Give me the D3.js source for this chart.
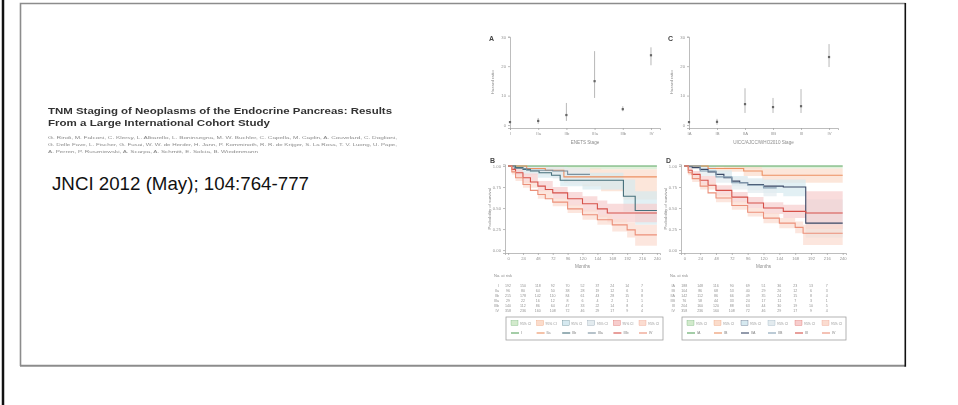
<!DOCTYPE html>
<html>
<head>
<meta charset="utf-8">
<script src="https://cdn.jsdelivr.net/npm/d3@7"></script>
<style>
  body { margin: 0; background: #fff; }
  svg { display: block; font-family: "Liberation Sans", Arial, sans-serif; }
</style>
</head>
<body>
<svg id="chart" width="958" height="405"></svg>
<script>
// ---- text ----
const paperTitle = ["TNM Staging of Neoplasms of the Endocrine Pancreas: Results",
                    "From a Large International Cohort Study"];
const paperAuthors = [
  "G. Rindi, M. Falconi, C. Klersy, L. Albarello, L. Boninsegna, M. W. Buchler, C. Capella, M. Caplin, A. Couvelard, C. Doglioni,",
  "G. Delle Fave, L. Fischer, G. Fusai, W. W. de Herder, H. Jann, P. Komminoth, R. R. de Krijger, S. La Rosa, T. V. Luong, U. Pape,",
  "A. Perren, P. Ruszniewski, A. Scarpa, A. Schmitt, E. Solcia, B. Wiedenmann"];
const citation = "JNCI 2012 (May); 104:764-777";

// ---- hazard ratio panels (A, C) ----
const enetsStages = ["I", "IIa", "IIb", "IIIa", "IIIb", "IV"];
const enetsHR = [1, 1.4, 3.4, 14.9, 5.4, 23.7];
const enetsLo = [1, 0.4, 1.4, 9.2, 4.7, 20.3];
const enetsHi = [1, 2.4, 7.5, 25.1, 6.4, 26.4];

const ajccStages = ["IA", "IB", "IIA", "IIB", "III", "IV"];
const ajccHR = [1, 1.1, 7.1, 6.1, 6.4, 23.1];
const ajccLo = [1, 0.1, 4.1, 4.1, 4.1, 19.7];
const ajccHi = [1, 2.1, 12.5, 9.2, 12.2, 27.5];

const hrTicks = [0, 10, 20, 30];

// ---- survival panels (B, D): [month, survival] and [month, lower, upper] ----
const monthTicks = [0, 24, 48, 72, 96, 120, 144, 168, 192, 216, 240];
const survTicks = [0, 0.25, 0.5, 0.75, 1];

const kmB_I    = [[0,1],[240,1]];
const kmB_IIa  = [[0,1],[30,0.97],[60,0.95],[90,0.87],[240,0.87]];
const kmB_IIb  = [[0,1],[12,0.98],[24,0.96],[36,0.94],[50,0.92],[70,0.89],[84,0.83],[186,0.64],[205,0.47],[240,0.47]];
const kmB_IIIa = [[0,1],[10,0.97],[30,0.95],[72,0.94],[96,0.9],[132,0.9]];
const kmB_IIIb = [[0,1],[6,0.96],[12,0.92],[24,0.86],[36,0.81],[48,0.76],[60,0.72],[72,0.68],[96,0.61],[120,0.55],[144,0.49],[160,0.44],[240,0.44]];
const kmB_IV   = [[0,1],[6,0.93],[12,0.86],[24,0.78],[36,0.71],[48,0.66],[60,0.61],[72,0.57],[96,0.49],[120,0.42],[144,0.36],[168,0.3],[192,0.24],[205,0.18],[240,0.18]];

const ciB_I    = [[0,0.99,1],[48,0.96,1],[240,0.96,1]];
const ciB_IIa  = [[0,0.99,1],[30,0.93,1],[60,0.9,1],[90,0.8,0.97],[120,0.76,0.97],[150,0.7,0.96],[186,0.6,0.96],[240,0.6,0.96]];
const ciB_IIb  = [[0,0.99,1],[24,0.92,0.99],[48,0.86,0.97],[84,0.76,0.92],[120,0.72,0.92],[186,0.46,0.84],[205,0.3,0.7],[240,0.3,0.7]];
const ciB_IIIa = [[0,1,1],[10,0.9,1],[72,0.85,1],[96,0.78,0.98],[132,0.78,0.98]];
const ciB_IIIb = [[0,1,1],[6,0.92,0.99],[12,0.87,0.96],[24,0.8,0.91],[48,0.7,0.82],[72,0.61,0.75],[96,0.53,0.69],[120,0.46,0.64],[144,0.39,0.59],[160,0.33,0.55],[240,0.33,0.55]];
const ciB_IV   = [[0,1,1],[6,0.9,0.96],[12,0.82,0.9],[24,0.74,0.82],[48,0.61,0.71],[72,0.52,0.62],[96,0.44,0.54],[120,0.36,0.48],[144,0.3,0.42],[168,0.22,0.37],[192,0.15,0.33],[205,0.05,0.3],[240,0.05,0.3]];

const kmD_IA  = [[0,1],[240,1]];
const kmD_IB  = [[0,1],[36,0.97],[90,0.94],[118,0.89],[240,0.89]];
const kmD_IIA = [[0,1],[6,0.99],[12,0.98],[24,0.96],[36,0.93],[48,0.9],[60,0.86],[72,0.82],[84,0.8],[96,0.78],[120,0.76],[150,0.75],[184,0.32],[240,0.32]];
const kmD_IIB = [[0,1],[24,0.94],[48,0.87],[72,0.8],[96,0.77],[120,0.74],[140,0.74]];
const kmD_III = [[0,1],[6,0.95],[12,0.9],[24,0.83],[36,0.77],[48,0.71],[72,0.63],[96,0.56],[120,0.5],[150,0.46],[184,0.44],[240,0.44]];
const kmD_IV  = [[0,1],[6,0.92],[12,0.85],[24,0.76],[36,0.68],[48,0.62],[72,0.53],[96,0.45],[120,0.38],[144,0.32],[168,0.27],[180,0.2],[240,0.2]];

const ciD_IA  = [[0,0.99,1],[60,0.97,1],[240,0.97,1]];
const ciD_IB  = [[0,0.99,1],[36,0.93,1],[90,0.88,0.99],[118,0.8,0.97],[240,0.8,0.97]];
const ciD_IIA = [[0,1,1],[24,0.93,0.99],[48,0.85,0.95],[72,0.76,0.88],[96,0.71,0.85],[120,0.68,0.84],[150,0.64,0.84],[184,0.15,0.6],[240,0.15,0.6]];
const ciD_IIB = [[0,1,1],[24,0.88,0.98],[48,0.8,0.93],[72,0.72,0.87],[96,0.68,0.85],[120,0.64,0.83],[140,0.64,0.83]];
const ciD_III = [[0,1,1],[6,0.92,0.98],[12,0.86,0.94],[24,0.78,0.88],[48,0.65,0.77],[72,0.57,0.69],[96,0.5,0.63],[120,0.43,0.57],[150,0.38,0.54],[184,0.25,0.7],[240,0.25,0.7]];
const ciD_IV  = [[0,1,1],[6,0.89,0.95],[12,0.81,0.89],[24,0.72,0.8],[48,0.57,0.67],[72,0.48,0.58],[96,0.4,0.5],[120,0.32,0.44],[144,0.26,0.38],[168,0.2,0.34],[180,0.06,0.3],[240,0.06,0.3]];

// numbers at risk, columns at months 0..216
const riskMonths = [0, 24, 48, 72, 96, 120, 144, 168, 192, 216];
const riskB = [
  [192,150,118,92,70,52,37,24,14,7],
  [96,80,64,50,38,28,19,12,6,3],
  [215,178,142,110,84,61,43,28,15,8],
  [29,22,16,12,8,6,4,2,1,1],
  [140,112,86,64,47,33,22,14,8,4],
  [358,236,160,108,72,46,29,17,9,4]];
const riskD = [
  [188,148,116,90,69,51,36,23,13,7],
  [104,86,68,53,40,29,20,12,6,3],
  [142,112,86,66,49,35,24,15,8,4],
  [76,58,44,33,24,17,11,7,3,1],
  [204,160,120,88,63,44,30,19,10,5],
  [358,236,160,108,72,46,29,17,9,4]];

const lineColorsB = ["#5aa560", "#ec9062", "#46707b", "#7a909e", "#d6514a", "#eb9079"];
const lineColorsD = ["#5aa560", "#ec9062", "#3a4866", "#86a0b4", "#d6514a", "#eb9079"];
const bandColors  = ["#d2eacc", "#fbdccb", "#d6e9f0", "#e3ebef", "#f7cdcd", "#fbdcd0"];

// ---------------------------------------------------------------
const svg = d3.select("#chart");

// slide frame
svg.append("line").attr("x1", 3).attr("x2", 3).attr("y1", 0).attr("y2", 405)
  .attr("stroke", "#111").attr("stroke-width", 2.5);
svg.append("path").attr("d", "M20.5,366 V3.5 H905.5")
  .attr("fill", "none").attr("stroke", "#8c8c8c").attr("stroke-width", 1.6);
svg.append("line").attr("x1", 20).attr("x2", 905).attr("y1", 365.8).attr("y2", 365.8)
  .attr("stroke", "#8c8c8c").attr("stroke-width", 2);
svg.append("line").attr("x1", 905.3).attr("x2", 905.3).attr("y1", 3).attr("y2", 366.8)
  .attr("stroke", "#111").attr("stroke-width", 1.6);

const defs = svg.append("defs");
defs.append("filter").attr("id", "soft")
  .append("feGaussianBlur").attr("stdDeviation", 0.6);

// paper header
const head = svg.append("g").attr("filter", "url(#soft)");
head.selectAll(null).data(paperTitle).enter().append("text")
  .attr("x", 48).attr("y", (d, i) => 113.5 + i * 12.5)
  .attr("font-size", 8.6).attr("font-weight", "bold").attr("fill", "#333")
  .attr("textLength", (d, i) => i === 0 ? 344 : 222).attr("lengthAdjust", "spacingAndGlyphs")
  .text(d => d);
head.selectAll(null).data(paperAuthors).enter().append("text")
  .attr("x", 48).attr("y", (d, i) => 138.5 + i * 7)
  .attr("font-size", 4.4).attr("fill", "#8a8a8a")
  .attr("textLength", (d, i) => i === 2 ? 210 : 349).attr("lengthAdjust", "spacingAndGlyphs")
  .text(d => d);

svg.append("text").attr("x", 52).attr("y", 189.5)
  .attr("font-size", 18.5).attr("fill", "#111")
  .attr("textLength", 257).attr("lengthAdjust", "spacingAndGlyphs").text(citation);

// figure
const fig = svg.append("g").attr("filter", "url(#soft)");

function styleAxis(g) {
  g.attr("font-family", null).attr("font-size", null);
  g.selectAll("path, line").attr("stroke", "#a0a0a0").attr("stroke-width", 0.7);
  g.selectAll("text").attr("font-size", 4.2).attr("fill", "#939393");
}

function hrPanel(o) {
  const g = fig.append("g");
  const x = d3.scalePoint().domain(o.stages).range([o.left, o.right]).padding(0.16).align(0);
  const y = d3.scaleLinear().domain([-1, 30]).range([o.bottom, o.top]);

  g.append("g").attr("transform", `translate(${o.left},0)`)
    .call(d3.axisLeft(y).tickValues(hrTicks).tickSize(2).tickPadding(2)).call(styleAxis);
  g.append("g").attr("transform", `translate(0,${o.bottom})`)
    .call(d3.axisBottom(x).tickSize(2).tickPadding(2)).call(styleAxis);

  const rows = o.stages.map((s, i) => ({ s, hr: o.hr[i], lo: o.lo[i], hi: o.hi[i] }));
  g.selectAll(null).data(rows).enter().append("line")
    .attr("x1", d => x(d.s)).attr("x2", d => x(d.s))
    .attr("y1", d => y(d.lo)).attr("y2", d => y(d.hi))
    .attr("stroke", "#b0b0b0").attr("stroke-width", 0.9);
  g.selectAll(null).data(rows).enter().append("rect")
    .attr("x", d => x(d.s) - 1.1).attr("y", d => y(d.hr) - 1.1)
    .attr("width", 2.2).attr("height", 2.2).attr("fill", "#666");

  g.append("text").attr("x", o.left - 21).attr("y", o.top + 4)
    .attr("font-size", 7).attr("font-weight", "bold").attr("fill", "#444").text(o.letter);
  g.append("text").attr("transform", `translate(${o.left - 16},${(o.top + o.bottom) / 2}) rotate(-90)`)
    .attr("text-anchor", "middle").attr("font-size", 4.4).attr("fill", "#8c8c8c").text("Hazard ratio");
  g.append("text").attr("x", (o.left + o.right) / 2).attr("y", o.bottom + 15.5)
    .attr("text-anchor", "middle").attr("font-size", 4.6).attr("fill", "#8c8c8c").text(o.title);
}

function kmPanel(o) {
  const g = fig.append("g");
  const x = d3.scaleLinear().domain([-5, 245]).range([o.left, o.right]);
  const y = d3.scaleLinear().domain([-0.035, 1.02]).range([o.bottom, o.top]);
  const area = d3.area().x(d => x(d[0])).y0(d => y(d[1])).y1(d => y(d[2])).curve(d3.curveStepAfter);
  const line = d3.line().x(d => x(d[0])).y(d => y(d[1])).curve(d3.curveStepAfter);

  g.selectAll(null).data(o.cis).enter().append("path")
    .attr("d", area).attr("fill", (d, i) => bandColors[i]).attr("fill-opacity", 0.7);
  g.selectAll(null).data(o.kms).enter().append("path")
    .attr("d", line).attr("fill", "none")
    .attr("stroke", (d, i) => o.colors[i]).attr("stroke-width", 1.1);

  g.append("g").attr("transform", `translate(${o.left},0)`)
    .call(d3.axisLeft(y).tickValues(survTicks).tickFormat(d3.format(".2f")).tickSize(2).tickPadding(2)).call(styleAxis);
  g.append("g").attr("transform", `translate(0,${o.bottom})`)
    .call(d3.axisBottom(x).tickValues(monthTicks).tickSize(2).tickPadding(2)).call(styleAxis);

  g.append("text").attr("x", o.left - 15).attr("y", o.top - 1)
    .attr("font-size", 7).attr("font-weight", "bold").attr("fill", "#444").text(o.letter);
  g.append("text").attr("transform", `translate(${o.left - 14},${(o.top + o.bottom) / 2}) rotate(-90)`)
    .attr("text-anchor", "middle").attr("font-size", 4.4).attr("fill", "#8c8c8c").text("Probability of survival");
  g.append("text").attr("x", (o.left + o.right) / 2).attr("y", o.bottom + 15)
    .attr("text-anchor", "middle").attr("font-size", 4.6).attr("fill", "#8c8c8c").text("Months");

  // numbers at risk
  const ry = d3.scalePoint().domain(o.stages).range([286, 311]);
  g.append("text").attr("x", o.left - 11).attr("y", 277)
    .attr("font-size", 4).attr("fill", "#8c8c8c").text("No. at risk");
  g.selectAll(null).data(o.stages).enter().append("text")
    .attr("x", o.left - 6).attr("y", d => ry(d) + 1.3)
    .attr("text-anchor", "end").attr("font-size", 3.6).attr("fill", "#939393").text(d => d);
  o.risk.forEach((row, r) => {
    g.selectAll(null).data(row).enter().append("text")
      .attr("x", (d, i) => x(riskMonths[i])).attr("y", ry(o.stages[r]) + 1.3)
      .attr("text-anchor", "middle").attr("font-size", 3.6).attr("fill", "#939393").text(d => d);
  });

  // legend box
  const lg = g.append("g");
  lg.append("rect").attr("x", o.legX).attr("y", 317).attr("width", o.legW).attr("height", 23)
    .attr("fill", "#fff").attr("stroke", "#a0a0a0").attr("stroke-width", 0.8);
  const lx = d3.scalePoint().domain(o.stages).range([o.legX + 5, o.legX + o.legW - 24]);
  lg.selectAll(null).data(o.stages).enter().append("rect")
    .attr("x", d => lx(d)).attr("y", 320.5).attr("width", 7).attr("height", 5)
    .attr("fill", (d, i) => bandColors[i]).attr("stroke", (d, i) => o.colors[i]).attr("stroke-width", 0.3);
  lg.selectAll(null).data(o.stages).enter().append("text")
    .attr("x", d => lx(d) + 9).attr("y", 324.5)
    .attr("font-size", 3.4).attr("fill", "#939393").text("95% CI");
  lg.selectAll(null).data(o.stages).enter().append("line")
    .attr("x1", d => lx(d)).attr("x2", d => lx(d) + 8).attr("y1", 333).attr("y2", 333)
    .attr("stroke", (d, i) => o.colors[i]).attr("stroke-width", 1.1);
  lg.selectAll(null).data(o.stages).enter().append("text")
    .attr("x", d => lx(d) + 10).attr("y", 334.3)
    .attr("font-size", 3.6).attr("fill", "#808080").text(d => d);
}

hrPanel({ stages: enetsStages, hr: enetsHR, lo: enetsLo, hi: enetsHi,
  left: 510, right: 660, top: 36.7, bottom: 128, letter: "A", title: "ENETS Stage" });
hrPanel({ stages: ajccStages, hr: ajccHR, lo: ajccLo, hi: ajccHi,
  left: 689, right: 838, top: 36.7, bottom: 128, letter: "C", title: "UICC/AJCC/WHO2010 Stage" });

kmPanel({ stages: enetsStages, letter: "B", left: 505, right: 660, top: 164.3, bottom: 253,
  kms: [kmB_I, kmB_IIa, kmB_IIb, kmB_IIIa, kmB_IIIb, kmB_IV],
  cis: [ciB_I, ciB_IIa, ciB_IIb, ciB_IIIa, ciB_IIIb, ciB_IV],
  colors: lineColorsB, risk: riskB, legX: 506, legW: 157 });
kmPanel({ stages: ajccStages, letter: "D", left: 681, right: 846, top: 164.3, bottom: 253,
  kms: [kmD_IA, kmD_IB, kmD_IIA, kmD_IIB, kmD_III, kmD_IV],
  cis: [ciD_IA, ciD_IB, ciD_IIA, ciD_IIB, ciD_III, ciD_IV],
  colors: lineColorsD, risk: riskD, legX: 682, legW: 164 });
</script>
</body>
</html>
